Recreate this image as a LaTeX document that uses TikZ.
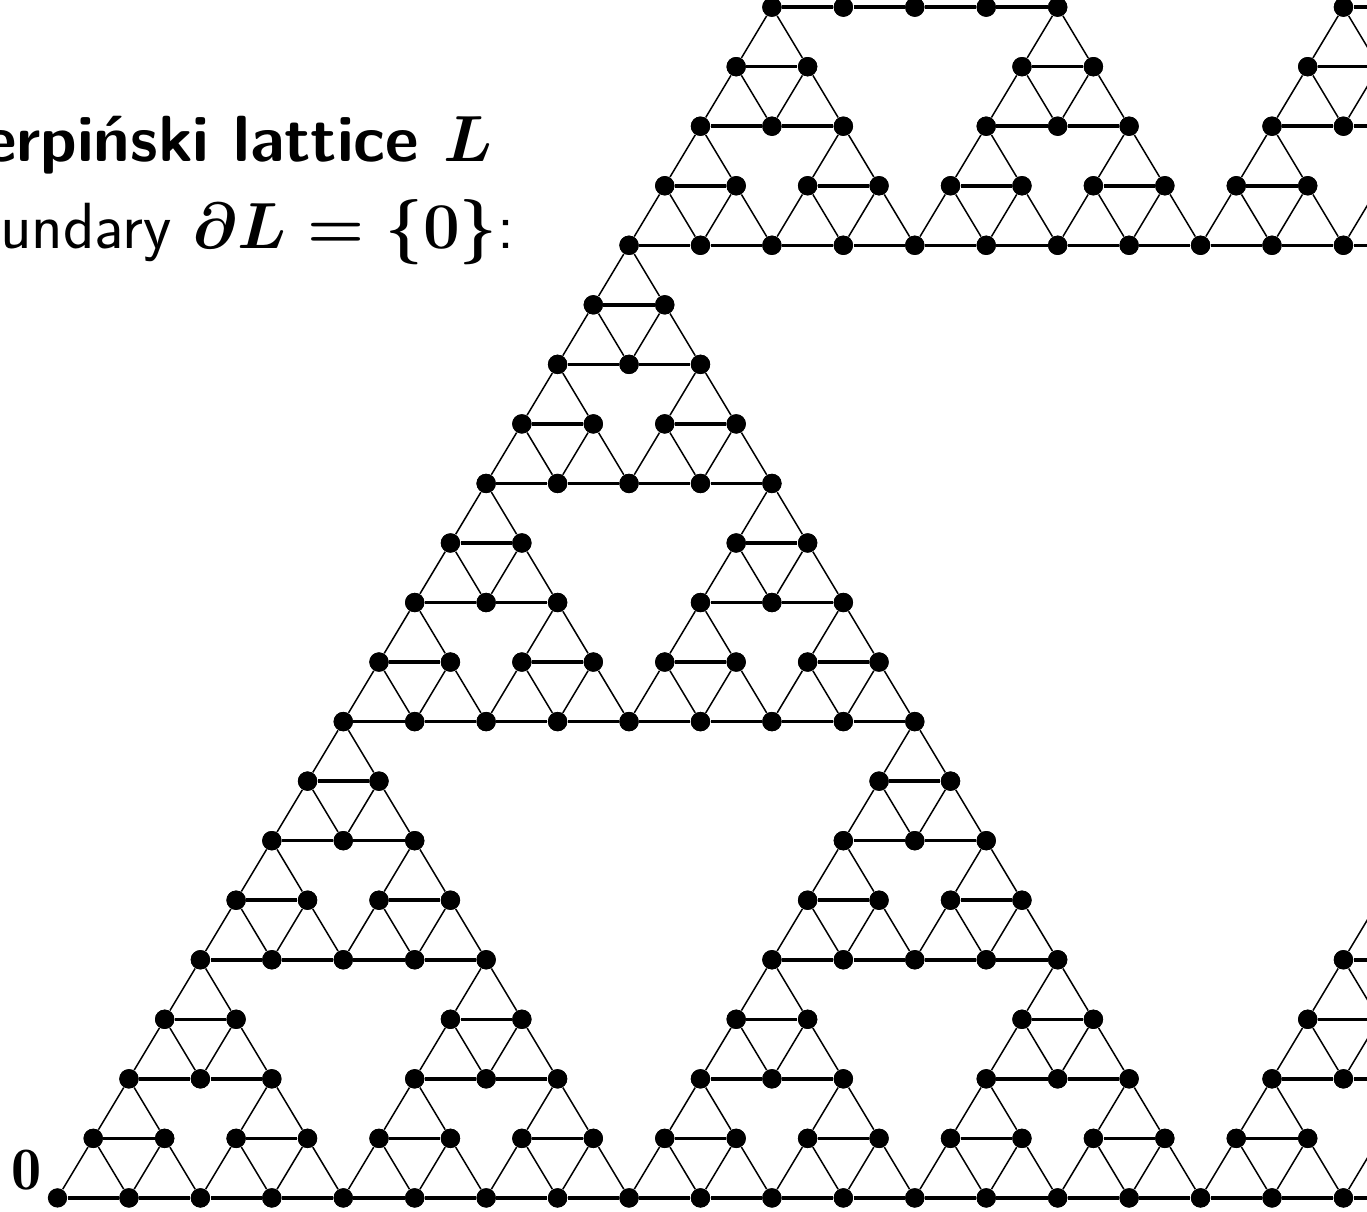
\RequirePackage{fix-cm}
\documentclass[tikz,border=0pt]{standalone}
\usepackage{fontspec}
\usepackage{amsmath}
\usetikzlibrary{calc}

% cells of the gasket: lower-left corner (#1,#2) in lattice coordinates
\newcommand\placecell[2]{%
  \edef\ia{\the\numexpr#1+1\relax}\edef\jb{\the\numexpr#2+1\relax}%
  \node[vtx] (v-#1-#2) at ({#1+#2/2},#2) {};
  \node[vtx] (v-\ia-#2) at ({\ia+#2/2},#2) {};
  \node[vtx] (v-#1-\jb) at ({#1+\jb/2},\jb) {};
}
\newcommand\linkcell[2]{%
  \edef\ia{\the\numexpr#1+1\relax}\edef\jb{\the\numexpr#2+1\relax}%
  \draw[rung] (v-#1-#2) -- (v-\ia-#2);
  \draw[leg] (v-#1-#2) -- (v-#1-\jb) -- (v-\ia-#2);
}
% recursion: #1 = side, (#2,#3) = corner
\newcommand\gasket[3]{%
  \ifnum#1=1
    \cell{#2}{#3}%
  \else
    \begingroup
    \edef\hs{\the\numexpr#1/2\relax}%
    \edef\ga{\the\numexpr#2+\hs\relax}%
    \edef\gb{\the\numexpr#3+\hs\relax}%
    \edef\gnext{\noexpand\gasket{\hs}{#2}{#3}\noexpand\gasket{\hs}{\ga}{#3}\noexpand\gasket{\hs}{#2}{\gb}}%
    \expandafter\endgroup\gnext
  \fi}

\begin{document}
\begin{tikzpicture}[x=1cm, y=0.8334cm,
    vtx/.style={circle, fill=black, inner sep=0pt, minimum size=7.7pt},
    rung/.style={line width=1.4pt},
    leg/.style={line width=0.6pt},
    title/.style={inner sep=0pt, font=\sffamily\fontsize{26}{28}\selectfont}]
\useasboundingbox (-0.805,-0.235) rectangle (18.33,20.12);
\clip (-0.805,-0.235) rectangle (18.33,20.12);
% dots first, then edges between them
\let\cell\placecell
\gasket{32}{0}{0}
\let\cell\linkcell
\gasket{32}{0}{0}
\node[title, anchor=base east] (head) at (6.096,17.40) {\bfseries Sierpiński lattice $\boldsymbol{L}$};
\node[title, anchor=base east] (bdry) at (6.404,15.94) {boundary $\boldsymbol{\partial L=\{0\}}$:};
\node[anchor=base east, inner sep=0pt, font=\fontsize{24}{28}\selectfont] (zero) at (-0.217,0.134) {$\mathbf{0}$};
\end{tikzpicture}
\end{document}
